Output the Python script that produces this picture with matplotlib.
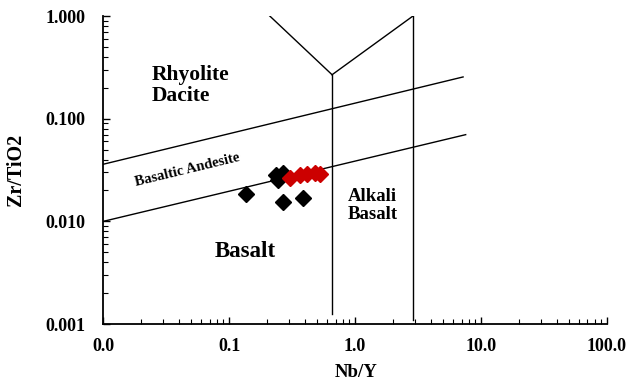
import numpy as np
import matplotlib
matplotlib.use("Agg")
import matplotlib.pyplot as plt
from matplotlib.ticker import FuncFormatter, LogLocator

plt.rcParams['font.family'] = ['Liberation Serif', 'DejaVu Serif']
plt.rcParams['font.weight'] = 'bold'

# samples (Nb/Y, Zr/TiO2)
black_nby = [0.135, 0.266, 0.386, 0.235, 0.245, 0.268]
black_zrti = [0.0184, 0.0154, 0.0168, 0.0283, 0.0253, 0.0298]
red_nby = [0.303, 0.364, 0.411, 0.479, 0.525]
red_zrti = [0.0263, 0.0283, 0.0290, 0.0294, 0.0289]

# field boundaries (Pearce 1996 style)
upper_x = [0.01, 7.2]
upper_y = [0.036, 0.255]
lower_x = [0.01, 7.55]
lower_y = [0.010, 0.0699]
left_vert_x = [0.656, 0.656]
left_vert_y = [0.00125, 0.268]
left_diag_x = [0.21, 0.656]
left_diag_y = [1.0, 0.268]
right_diag_x = [0.656, 2.88]
right_diag_y = [0.268, 1.0]
right_vert_x = [2.88, 2.88]
right_vert_y = [1.0, 0.0011]

fig = plt.figure(figsize=(6.28, 3.85), dpi=100)
ax = fig.add_axes([0.1645, 0.1584, 0.802, 0.8])

for xs, ys in [(upper_x, upper_y), (lower_x, lower_y), (left_vert_x, left_vert_y),
               (left_diag_x, left_diag_y), (right_diag_x, right_diag_y),
               (right_vert_x, right_vert_y)]:
    ax.plot(xs, ys, color='black', lw=1.0, zorder=2)

ax.plot(black_nby, black_zrti, 'D', color='black', ms=8, zorder=3)
ax.plot(red_nby, red_zrti, 'D', color='#CC0000', ms=8, zorder=3)

ax.set_xscale('log')
ax.set_yscale('log')
ax.set_xlim(0.01, 100)
ax.set_ylim(0.001, 1)

ax.text(0.0244, 0.21, 'Rhyolite\nDacite', fontsize=15.5, fontweight='bold',
        ha='left', va='center', linespacing=1.1)
ax.text(0.0464, 0.0317, 'Basaltic Andesite', fontsize=10.5, fontweight='bold',
        ha='center', va='center', rotation=13.6, rotation_mode='anchor')
ax.text(0.133, 0.00503, 'Basalt', fontsize=16.5, fontweight='bold',
        ha='center', va='center')
ax.text(1.374, 0.0143, 'Alkali\nBasalt', fontsize=13.5, fontweight='bold',
        ha='center', va='center', linespacing=1.1)

ax.spines['top'].set_visible(False)
ax.spines['right'].set_visible(False)
ax.spines['left'].set_linewidth(1.3)
ax.spines['bottom'].set_linewidth(1.3)

ax.xaxis.set_major_locator(LogLocator(base=10, numticks=10))
ax.yaxis.set_major_locator(LogLocator(base=10, numticks=10))
ax.xaxis.set_major_formatter(FuncFormatter(lambda v, p: f"{v:.1f}"))
ax.yaxis.set_major_formatter(FuncFormatter(lambda v, p: f"{v:.3f}"))
ax.tick_params(axis='x', which='major', direction='in', length=5, width=1, pad=10, labelsize=13)
ax.tick_params(axis='y', which='major', direction='in', length=5, width=1, pad=13, labelsize=13)
ax.tick_params(which='minor', direction='in', length=3.5, width=0.8)
for lab in ax.get_xticklabels() + ax.get_yticklabels():
    lab.set_fontweight('bold')

ax.set_xlabel('Nb/Y', fontsize=13.5, fontweight='bold', va='center')
ax.set_ylabel('Zr/TiO2', fontsize=14.5, fontweight='bold', va='center')
ax.xaxis.set_label_coords(0.502, -0.158)
ax.yaxis.set_label_coords(-0.173, 0.5)

fig.savefig('out.png', dpi=100)
